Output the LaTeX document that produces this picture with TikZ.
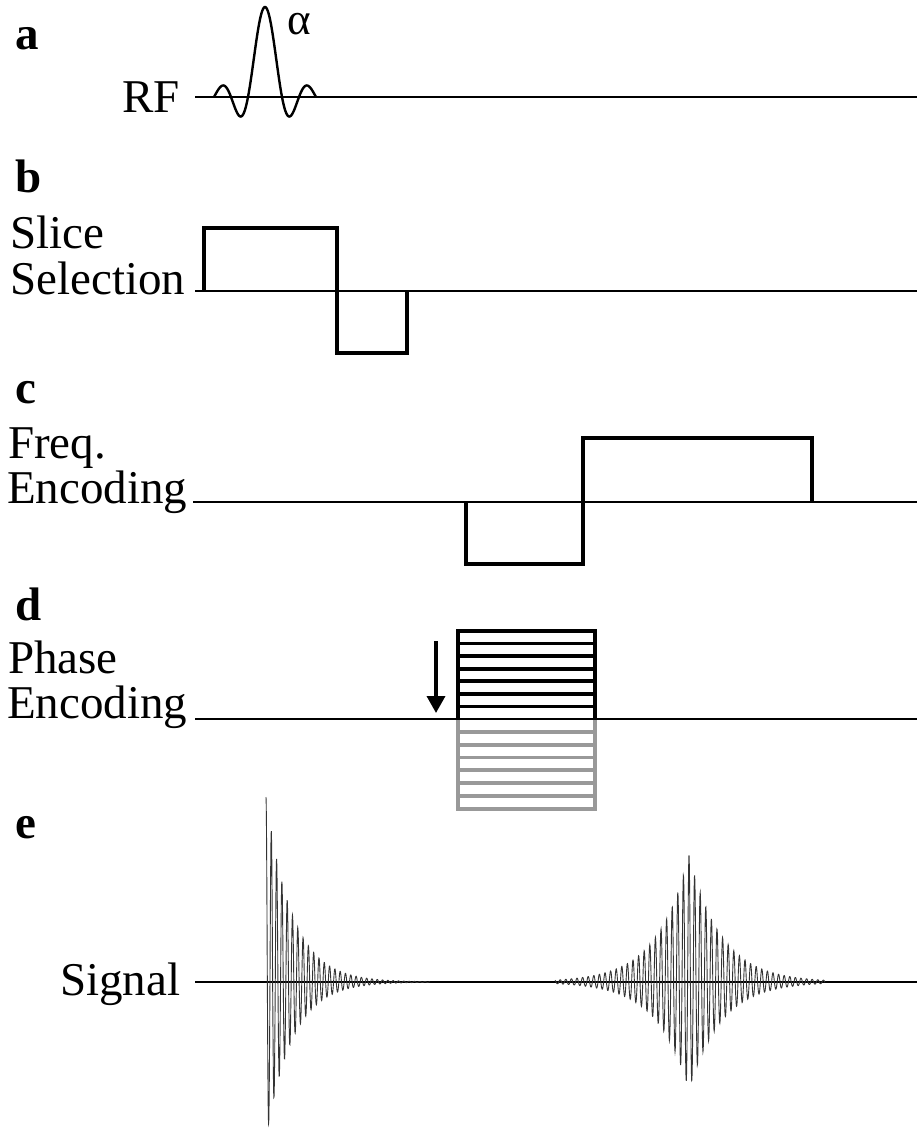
\documentclass[tikz,border=0pt]{standalone}
\usepackage{fontspec}
\setmainfont{Liberation Serif}
\usetikzlibrary{arrows.meta}
\begin{document}
\begin{tikzpicture}[x=1pt,y=-1pt,
  lbl/.style={font=\fontsize{47}{56}\selectfont, inner sep=0pt, anchor=base west},
  tag/.style={font=\fontsize{47}{56}\selectfont\bfseries, inner sep=0pt, anchor=base west},
  axis/.style={line width=2.6pt},
  grad/.style={line width=4.2pt, line join=miter},
  rfpulse/.style={line width=2.4pt},
  sig/.style={line width=0.9pt, black!80},
  pestripe/.style={line width=3.8pt},
  pegray/.style={line width=3.8pt, black!40},
  declare function={skw(\c)=(\c>0)*\c+(\c<=0)*0.85*\c;}
]
\useasboundingbox (0,0) rectangle (917,1145);

% ---------- a: RF ----------
\node[tag] (taga) at (15,50) {a};
\node[lbl] (rflab) at (122,113) {RF};
\draw[axis] (195,97) -- (917,97);
\draw[rfpulse] plot[domain=-3:3, samples=120, smooth]
  ({265+17*\x}, {97 - 90*sin(180*\x)/(pi*\x)});
\node[lbl, font=\fontsize{45}{50}\selectfont] (alpha) at (287,35) {α};

% ---------- b: slice selection ----------
\node[tag] (tagb) at (15,192) {b};
\node[lbl] (ss1) at (10,248) {Slice};
\node[lbl] (ss2) at (10,294) {Selection};
\draw[axis] (195,291) -- (917,291);
\draw[grad] (204,291) -- (204,228) -- (337,228) -- (337,353) -- (407,353) -- (407,291);

% ---------- c: frequency encoding ----------
\node[tag] (tagc) at (15,403) {c};
\node[lbl] (fe1) at (8,458) {Freq.};
\node[lbl] (fe2) at (7,503) {Encoding};
\draw[axis] (193,502) -- (917,502);
\draw[grad] (466,502) -- (466,564) -- (583,564) -- (583,438) -- (812,438) -- (812,502);

% ---------- d: phase encoding ----------
\node[tag] (tagd) at (15,620) {d};
\node[lbl] (pe1) at (8,673) {Phase};
\node[lbl] (pe2) at (7,718) {Encoding};
% negative steps (grey)
\foreach \k in {1,...,6}
  \draw[pegray] (458,{719+12.8*\k}) -- (595,{719+12.8*\k});
\draw[pegray, line join=miter] (458,719) -- (458,808.6) -- (595,808.6) -- (595,719);
\draw[axis] (195,719) -- (917,719);
% positive steps (black)
\foreach \k in {1,...,6}
  \draw[pestripe] (458,{631+12.57*\k}) -- (595,{631+12.57*\k});
\draw[pestripe, line join=miter] (458,719) -- (458,631) -- (595,631) -- (595,719);
% stepping direction
\coordinate (arrtop) at (436,641);
\coordinate (arrtip) at (436,713);
\draw[line width=3.5pt, -{Triangle[width=18pt,length=17pt]}] (arrtop) -- (arrtip);

% ---------- e: signal ----------
\node[tag] (tage) at (15,838) {e};
\node[lbl] (siglab) at (60,995) {Signal};
\draw[axis] (195,982) -- (917,982);
% free induction decay (t in px after the pulse)
\draw[sig] plot[domain=0:164, samples=900, variable=\t]
  ({266+\t}, {982 - 185*exp(-\t/26)*skw(cos(67.925*\t))});
% echo (t in px from the echo centre)
\draw[sig] plot[domain=-134:136, samples=1200, variable=\t]
  ({689+\t}, {982 - 127*exp(-abs(\t)/32)*skw(cos(64.286*\t))});
\end{tikzpicture}
\end{document}
